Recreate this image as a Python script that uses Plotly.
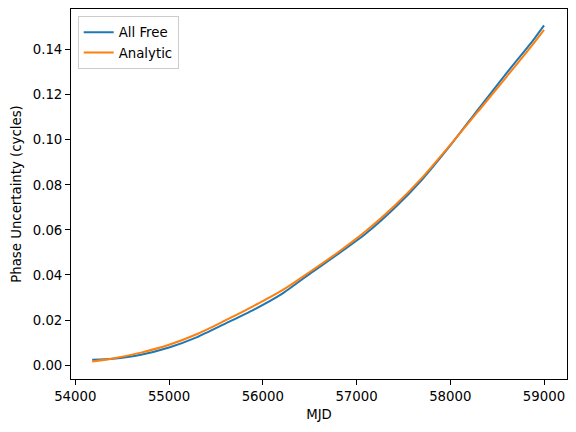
import plotly.graph_objects as go

# MJD sample points
mjd = [54180, 54400, 54700, 55000, 55300, 55600, 55900, 56200, 56500,
       56800, 57100, 57400, 57700, 58000, 58300, 58600, 58900, 59000]

# phase uncertainty (cycles)
all_free = [0.0023, 0.0028, 0.0046, 0.0078, 0.0124, 0.0184, 0.0245, 0.0315, 0.0405,
            0.0492, 0.0584, 0.0695, 0.0824, 0.0975, 0.1137, 0.1296, 0.1451, 0.1508]
analytic = [0.0016, 0.0029, 0.0055, 0.0090, 0.0138, 0.0198, 0.0262, 0.0330, 0.0413,
            0.0500, 0.0595, 0.0705, 0.0832, 0.0978, 0.1128, 0.1280, 0.1434, 0.1488]

x_ticks = [54000, 55000, 56000, 57000, 58000, 59000]
y_ticks = [0.00, 0.02, 0.04, 0.06, 0.08, 0.10, 0.12, 0.14]

font = dict(family="DejaVu Sans", size=13.3, color="black")

fig = go.Figure()
fig.add_trace(go.Scatter(x=mjd, y=all_free, mode="lines", name="All Free",
                         line=dict(color="#1f77b4", width=2, shape="spline", smoothing=0.6)))
fig.add_trace(go.Scatter(x=mjd, y=analytic, mode="lines", name="Analytic",
                         line=dict(color="#ff7f0e", width=2, shape="spline", smoothing=1.0)))

axis_style = dict(showline=True, linecolor="black", linewidth=1, mirror=True,
                  ticks="outside", ticklen=5, tickwidth=1, tickcolor="black",
                  showgrid=False, zeroline=False, tickfont=font)

fig.update_xaxes(range=[53954, 59245], tickvals=x_ticks, tickformat="d",
                 title=dict(text="MJD", font=font, standoff=6), **axis_style)
fig.update_yaxes(range=[-0.0062, 0.1581], tickvals=y_ticks, tickformat=".2f",
                 title=dict(text="Phase Uncertainty (cycles)", font=font, standoff=8),
                 **axis_style)

# page body has an 8px margin, so the figure is shrunk by that much
fig.update_layout(
    width=568, height=424,
    margin=dict(l=63, r=9, t=1, b=53),
    paper_bgcolor="white", plot_bgcolor="white",
    font=font,
    showlegend=True,
    legend=dict(x=0.0135, y=0.981, xanchor="left", yanchor="top",
                bgcolor="rgba(255,255,255,0.8)", bordercolor="#cccccc", borderwidth=1,
                font=font, tracegroupgap=0),
)

fig.write_html("out.html")
